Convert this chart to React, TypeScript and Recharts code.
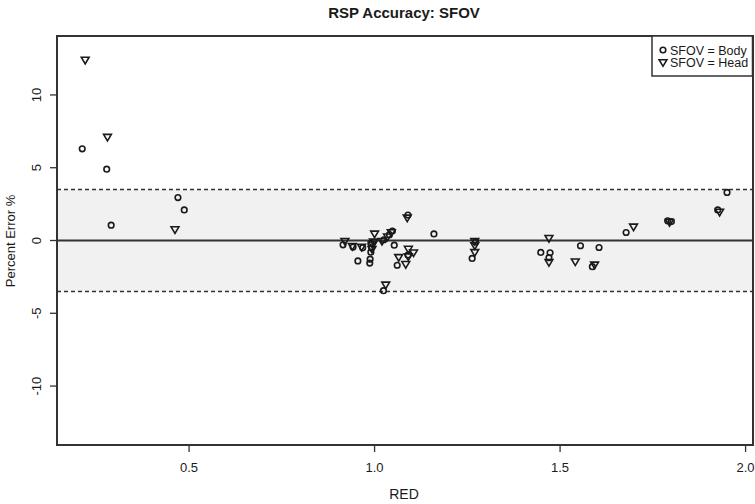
import React from "react";
import {
  ScatterChart,
  Scatter,
  XAxis,
  YAxis,
  ReferenceArea,
  ReferenceLine,
} from "recharts";

// RED (x) and percent error (y) for each SFOV setting
const bodyRed = [
  0.212, 0.278, 0.29, 0.47, 0.487, 0.915, 0.942, 0.955, 0.968, 0.99, 0.992, 0.99,
  0.988, 0.987, 1.024, 1.025, 1.04, 1.048, 1.053, 1.061, 1.09, 1.09, 1.16, 1.272,
  1.263, 1.448, 1.473, 1.47, 1.555, 1.605, 1.587, 1.678, 1.79, 1.8, 1.925, 1.95,
];
const bodyErr = [
  6.3, 4.9, 1.05, 2.95, 2.1, -0.3, -0.45, -1.4, -0.5, -0.2, -0.5, -0.8,
  -1.28, -1.55, -3.45, 0.05, 0.4, 0.65, -0.32, -1.7, 1.75, -1.0, 0.45, -0.1,
  -1.23, -0.82, -0.84, -1.18, -0.36, -0.48, -1.8, 0.55, 1.35, 1.3, 2.1, 3.3,
];
const headRed = [
  0.22, 0.28, 0.462, 0.92, 0.94, 0.965, 0.995, 0.993, 0.997, 1.0, 1.02, 1.03,
  1.035, 1.045, 1.065, 1.084, 1.088, 1.091, 1.091, 1.105, 1.27, 1.27, 1.27, 1.47,
  1.47, 1.541, 1.593, 1.698, 1.795, 1.93,
];
const headErr = [
  12.4, 7.1, 0.75, -0.05, -0.4, -0.45, -0.3, -0.6, -0.1, 0.45, -0.05, -3.05,
  0.25, 0.55, -1.16, -1.64, 1.55, -0.59, -1.11, -0.84, -0.05, -0.35, -0.82, 0.15,
  -1.5, -1.46, -1.68, 0.93, 1.25, 1.95,
];

const xTicks = [0.5, 1.0, 1.5, 2.0];
const yTicks = [-10, -5, 0, 5, 10];
const limit = 3.5;
const legendLabels = ["SFOV = Body", "SFOV = Head"];

const X_DOMAIN: [number, number] = [0.144, 2.02];
const Y_DOMAIN: [number, number] = [-14.05, 14.05];

const bodyData = bodyRed.map((x, i) => ({ x, y: bodyErr[i] }));
const headData = headRed.map((x, i) => ({ x, y: headErr[i] }));

const INK = "#1a1a1a";

const CircleMark = (p: any) => (
  <circle cx={p.cx} cy={p.cy} r={2.8} fill="none" stroke={INK} strokeWidth={1.6} />
);

const TriMark = (p: any) => {
  const { cx, cy } = p;
  return (
    <path
      d={`M${cx - 3.9},${cy - 2.8}L${cx + 3.9},${cy - 2.8}L${cx},${cy + 3.8}Z`}
      fill="none"
      stroke={INK}
      strokeWidth={1.6}
    />
  );
};

const YTick = (p: any) => (
  <text
    x={p.x}
    y={p.y}
    transform={`rotate(-90, ${p.x}, ${p.y})`}
    textAnchor="middle"
    fill={INK}
    fontSize={13}
    fontFamily="Liberation Sans, Arial, sans-serif"
  >
    {p.payload.value}
  </text>
);

export default function App() {
  return (
    <div style={{ position: "absolute", left: 0, top: 0, width: 755, height: 504, background: "#fff" }}>
      <ScatterChart
        width={755}
        height={504}
        margin={{ top: 36, right: 2, bottom: 29, left: 0 }}
      >
        <XAxis
          type="number"
          dataKey="x"
          domain={X_DOMAIN}
          ticks={xTicks}
          allowDataOverflow
          tickFormatter={(v: number) => v.toFixed(1)}
          axisLine={false}
          tickLine={{ stroke: "#333", strokeWidth: 1.3 }}
          tickSize={7}
          tickMargin={11}
          height={30}
          tick={{ fill: INK, fontSize: 13, fontFamily: "Liberation Sans Narrow, Arial Narrow, sans-serif" }}
        />
        <YAxis
          type="number"
          dataKey="y"
          domain={Y_DOMAIN}
          ticks={yTicks}
          allowDataOverflow
          axisLine={false}
          tickLine={{ stroke: "#333", strokeWidth: 1.3 }}
          tickSize={7}
          tickMargin={9}
          width={57}
          tick={<YTick />}
        />
        <ReferenceArea y1={-limit} y2={limit} fill="#f1f1f1" fillOpacity={1} stroke="none" />
        <ReferenceLine y={limit} stroke="#333" strokeWidth={1.4} strokeDasharray="4 3" />
        <ReferenceLine y={-limit} stroke="#333" strokeWidth={1.4} strokeDasharray="4 3" />
        <ReferenceLine y={0} stroke="#333" strokeWidth={2} />
        <Scatter data={bodyData} shape={<CircleMark />} isAnimationActive={false} />
        <Scatter data={headData} shape={<TriMark />} isAnimationActive={false} />
        <ReferenceArea
          x1={X_DOMAIN[0]}
          x2={X_DOMAIN[1]}
          y1={Y_DOMAIN[0]}
          y2={Y_DOMAIN[1]}
          fill="none"
          stroke="#333"
          strokeWidth={2}
        />
      </ScatterChart>
      <svg
        width={755}
        height={504}
        style={{ position: "absolute", left: 0, top: 0, pointerEvents: "none" }}
      >
        <text
          x={404}
          y={18}
          textAnchor="middle"
          fontSize={15}
          fontWeight="bold"
          fontFamily="Liberation Sans Narrow, Arial Narrow, sans-serif"
          fill={INK}
        >
          RSP Accuracy: SFOV
        </text>
        <text
          x={404}
          y={499}
          textAnchor="middle"
          fontSize={14}
          fontFamily="Liberation Sans Narrow, Arial Narrow, sans-serif"
          fill={INK}
        >
          RED
        </text>
        <text
          x={15}
          y={241}
          transform="rotate(-90, 15, 241)"
          textAnchor="middle"
          fontSize={13}
          fontFamily="Liberation Sans, Arial, sans-serif"
          fill={INK}
        >
          Percent Error %
        </text>
        <rect x={652} y={36} width={100.5} height={40} fill="#fff" stroke="#333" strokeWidth={1.5} />
        <CircleMark cx={663} cy={50} />
        <TriMark cx={663} cy={62.5} />
        <text x={670} y={54.5} fontSize={12.5} fontFamily="Liberation Sans, Arial, sans-serif" fill={INK}>
          {legendLabels[0]}
        </text>
        <text x={670} y={67} fontSize={12.5} fontFamily="Liberation Sans, Arial, sans-serif" fill={INK}>
          {legendLabels[1]}
        </text>
      </svg>
    </div>
  );
}
